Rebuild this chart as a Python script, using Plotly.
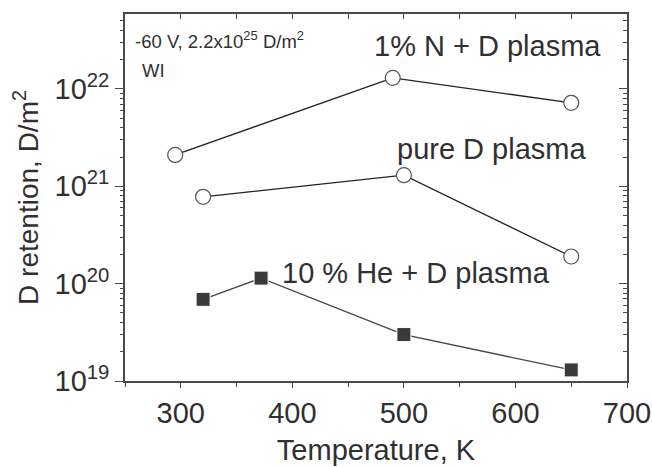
import plotly.graph_objects as go

# Data
n_temp = [295, 490, 650]
n_ret = [2.1e21, 1.3e22, 7.2e21]
d_temp = [320, 500, 650]
d_ret = [7.8e20, 1.3e21, 1.9e20]
he_temp = [320, 372, 500, 650]
he_ret = [6.9e19, 1.14e20, 3.0e19, 1.3e19]

x_major = [300, 400, 500, 600, 700]
x_minor = [250, 350, 450, 550, 650]
x_all = [250, 300, 350, 400, 450, 500, 550, 600, 650, 700]
y_major = [1e19, 1e20, 1e21, 1e22]
y_major_text = ["10<sup>19</sup>", "10<sup>20</sup>", "10<sup>21</sup>", "10<sup>22</sup>"]
y_minor = [m * 10.0 ** e for e in range(19, 23) for m in range(2, 10) if m * 10.0 ** e < 5.8e22]

FONT = "Liberation Sans, Arial, sans-serif"
TXT = "#303030"
XR = [250, 700]
YR = [19, 22.77]
L, R, T, B = 125, 25, 14, 86
W, H = 652, 467

fig = go.Figure()
fig.add_trace(go.Scatter(x=n_temp, y=n_ret, mode="lines+markers",
                         line=dict(color="#222222", width=1.3),
                         marker=dict(symbol="circle", size=15, color="white",
                                     line=dict(color="#555555", width=1.2)),
                         showlegend=False))
fig.add_trace(go.Scatter(x=d_temp, y=d_ret, mode="lines+markers",
                         line=dict(color="#222222", width=1.3),
                         marker=dict(symbol="circle", size=15, color="white",
                                     line=dict(color="#555555", width=1.2)),
                         showlegend=False))
fig.add_trace(go.Scatter(x=he_temp, y=he_ret, mode="lines+markers",
                         line=dict(color="#444444", width=1.3),
                         marker=dict(symbol="square", size=14, color="#3a3a3a",
                                     line=dict(color="white", width=1)),
                         showlegend=False))

# empty traces to activate overlay axes
for xa, ya in [("x", "y2"), ("x", "y3"), ("x", "y4"), ("x2", "y"), ("x3", "y")]:
    fig.add_trace(go.Scatter(x=[None], y=[None], xaxis=xa, yaxis=ya, showlegend=False))

axcol = "#4a4a4a"
common = dict(showgrid=False, zeroline=False, automargin=False)
fig.update_layout(
    width=W, height=H,
    margin=dict(l=L, r=R, t=T, b=B),
    paper_bgcolor="white", plot_bgcolor="white",
    font=dict(family=FONT, color=TXT),
    xaxis=dict(range=XR, **common,
               showline=True, linecolor=axcol, linewidth=1.6,
               tickmode="array", tickvals=x_major, ticktext=[str(v) for v in x_major],
               ticks="outside", ticklen=5, tickcolor=axcol, tickwidth=1.2,
               tickfont=dict(size=29, color=TXT),
               title=dict(text="Temperature, K", font=dict(size=29, color=TXT), standoff=12)),
    xaxis3=dict(range=XR, overlaying="x", side="bottom", **common, showline=False,
                tickmode="array", tickvals=x_minor, showticklabels=False,
                ticks="outside", ticklen=5, tickcolor=axcol, tickwidth=1.2),
    xaxis2=dict(range=XR, overlaying="x", side="top", **common,
                showline=True, linecolor=axcol, linewidth=1.6,
                tickmode="array", tickvals=x_all, showticklabels=False,
                ticks="inside", ticklen=5, tickcolor=axcol, tickwidth=1.2),
    yaxis=dict(type="log", range=YR, **common,
               showline=True, linecolor=axcol, linewidth=1.6,
               tickmode="array", tickvals=y_major, ticktext=y_major_text,
               ticks="outside", ticklen=8, tickcolor=axcol, tickwidth=1.2,
               tickfont=dict(size=29, color=TXT),
               title=dict(text="D retention, D/m<sup>2</sup>", font=dict(size=28, color=TXT), standoff=8)),
    yaxis2=dict(type="log", range=YR, overlaying="y", side="left", **common, showline=False,
                tickmode="array", tickvals=y_minor, showticklabels=False,
                ticks="outside", ticklen=4, tickcolor=axcol, tickwidth=1),
    yaxis3=dict(type="log", range=YR, overlaying="y", side="right", **common,
                showline=True, linecolor=axcol, linewidth=1.6,
                tickmode="array", tickvals=y_major, showticklabels=False,
                ticks="inside", ticklen=8, tickcolor=axcol, tickwidth=1.2),
    yaxis4=dict(type="log", range=YR, overlaying="y", side="right", **common, showline=False,
                tickmode="array", tickvals=y_minor, showticklabels=False,
                ticks="inside", ticklen=4, tickcolor=axcol, tickwidth=1),
)

PW = W - L - R
PH = H - T - B

ann = [
    ("-60 V, 2.2x10<sup>25</sup> D/m<sup>2</sup>", 133, 40, 18.5),
    ("WI", 140, 70, 18.5),
    ("1% N + D plasma", 372, 46, 29),
    ("pure D plasma", 395, 149, 29),
    ("10 % He + D plasma", 280, 273, 29),
]
for text, px, py, size in ann:
    fig.add_annotation(text=text, x=(px - L) / PW, y=1 - (py - T) / PH,
                       xref="paper", yref="paper", showarrow=False,
                       font=dict(size=size, color=TXT, family=FONT),
                       xanchor="left", yanchor="middle")

fig.write_html("out.html", config={"displayModeBar": False},
               post_script="document.body.style.margin='0';document.body.style.overflow='hidden';")
